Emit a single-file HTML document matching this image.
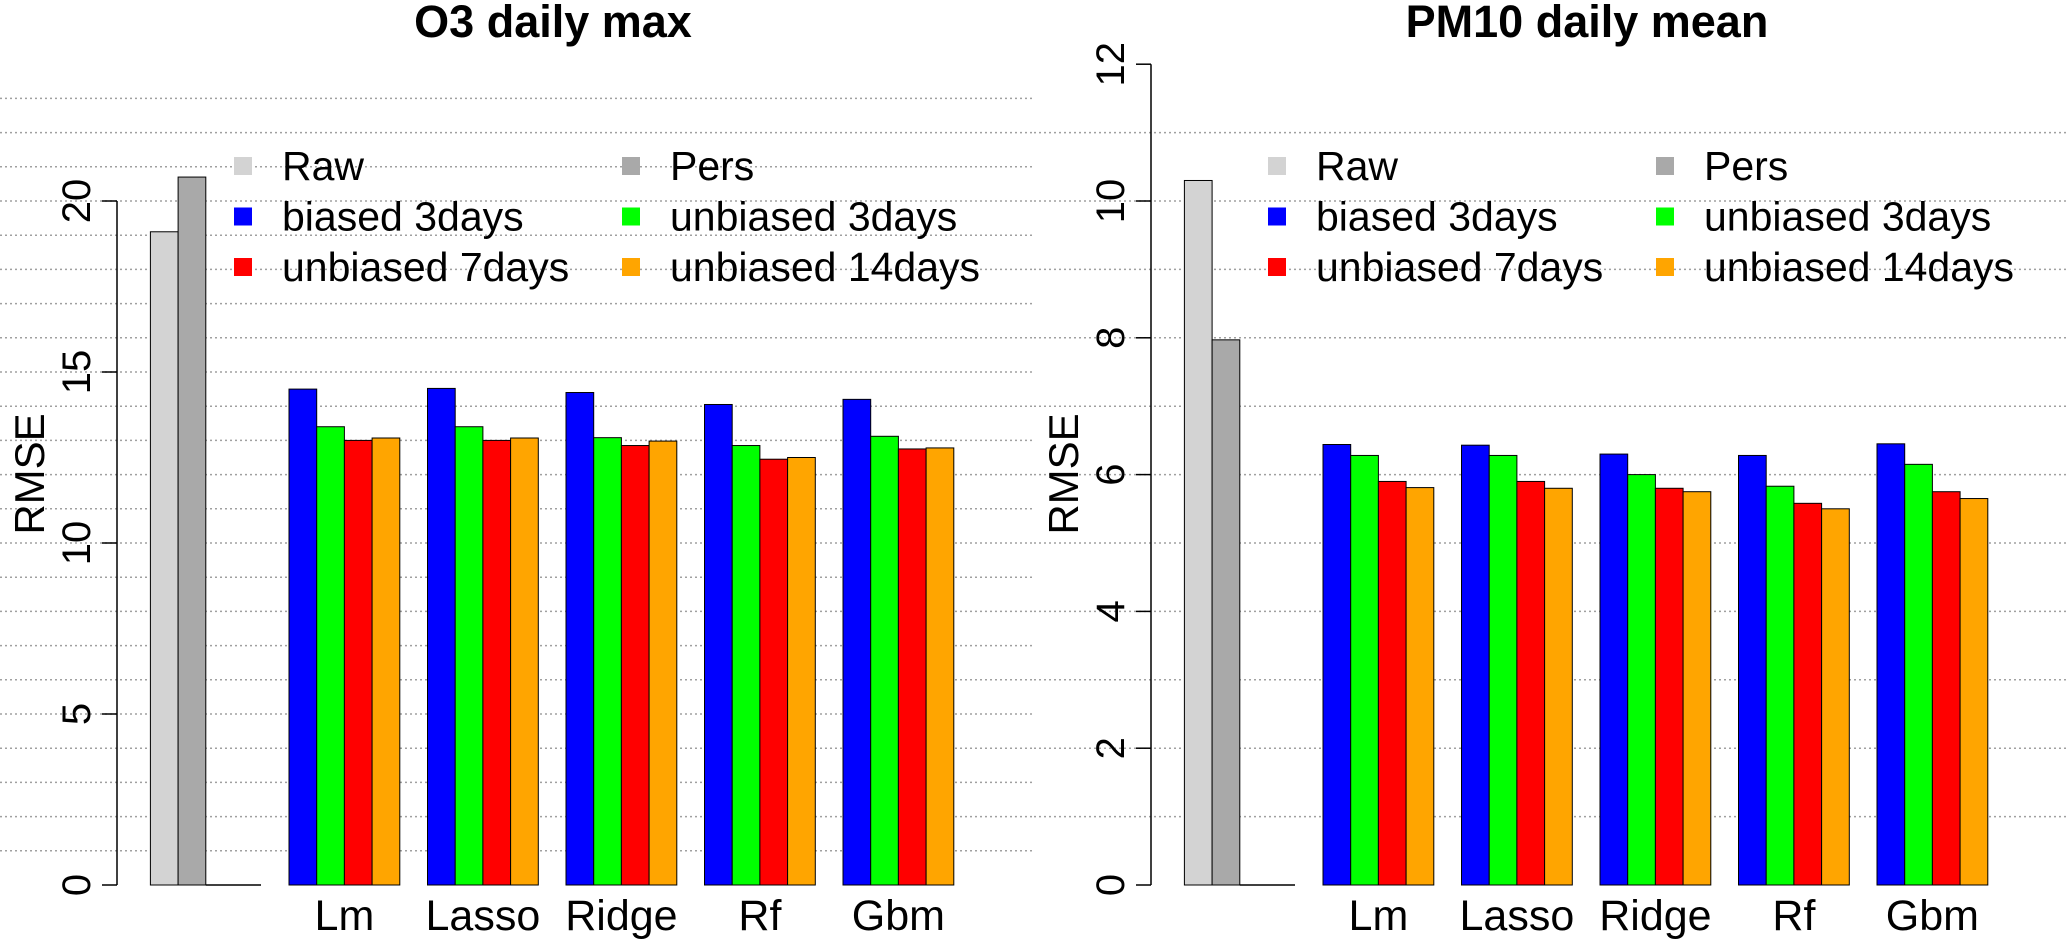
<!DOCTYPE html>
<html><head><meta charset="utf-8"><style>
html,body{margin:0;padding:0;background:#fff;}
svg{display:block;font-family:"Liberation Sans",Arial,sans-serif;}
</style></head><body>
<svg id="chart" width="2067" height="941" viewBox="0 0 2067 941" xmlns="http://www.w3.org/2000/svg"></svg>
<script>
const methods = ["Lm","Lasso","Ridge","Rf","Gbm"];
const seriesNames = ["biased 3days","unbiased 3days","unbiased 7days","unbiased 14days"];
const seriesColors = ["#0000ff","#00ff00","#ff0000","#ffa500"];
const o3Baselines = [19.1, 20.7];
const o3Biased3 = [14.5, 14.52, 14.4, 14.05, 14.2];
const o3Unbiased3 = [13.4, 13.4, 13.08, 12.85, 13.12];
const o3Unbiased7 = [13.0, 13.0, 12.85, 12.45, 12.75];
const o3Unbiased14 = [13.07, 13.07, 12.98, 12.5, 12.78];
const pmBaselines = [10.3, 7.97];
const pmBiased3 = [6.44, 6.43, 6.3, 6.28, 6.45];
const pmUnbiased3 = [6.28, 6.28, 6.0, 5.83, 6.15];
const pmUnbiased7 = [5.9, 5.9, 5.8, 5.58, 5.75];
const pmUnbiased14 = [5.81, 5.8, 5.75, 5.5, 5.65];
const o3Ticks = [0,5,10,15,20];
const pmTicks = [0,2,4,6,8,10,12];

const NS = "http://www.w3.org/2000/svg";
const svg = document.getElementById("chart");
function mk(tag, attrs, parent){
  const e = document.createElementNS(NS, tag);
  for (const k in attrs) e.setAttribute(k, attrs[k]);
  (parent||svg).appendChild(e);
  return e;
}

function panel(cfg){
  const g = mk("g", {});
  
  
  const ox = cfg.ox, y0 = 885, unit = cfg.unit;
  const y = v => y0 - v*unit;
  const bw = 27.7;
  for (let v = 1; v <= cfg.gridMax; v += 1) {
    const l = mk("line", {x1: ox, x2: ox+1033, y1: y(v), y2: y(v), stroke:"#a0a0a0", "stroke-width":1.5, "stroke-dasharray":"2,3"}, g);
    
    
  }
  const t = mk("text", {x: ox+553, y: 37, "font-size":45, "font-weight":"bold", "text-anchor":"middle"}, g);
  t.textContent = cfg.title;
  
  
  const ax = ox+117;
  const axl = mk("line", {x1: ax, x2: ax, y1: y0, y2: y(cfg.axisMax), stroke:"#000", "stroke-width":1.5}, g);
  
  
  cfg.ticks.forEach(v => {
    mk("line", {x1: ax-15, x2: ax, y1: y(v), y2: y(v), stroke:"#000", "stroke-width":1.5}, g);
    const tl = mk("text", {x: 0, y: 0, "font-size":40, "text-anchor":"middle", transform:`translate(${ox+90},${y(v)}) rotate(-90)`}, g);
    tl.textContent = v;
    
    
  });
  const yt = mk("text", {x:0, y:0, "font-size":42, "text-anchor":"middle", transform:`translate(${ox+44},474) rotate(-90)`}, g);
  yt.textContent = "RMSE";
  
  
  const baseCols = ["#d3d3d3","#a9a9a9"];
  cfg.baselines.forEach((v,i) => {
    const r = mk("rect", {x: ox+150.4+i*bw, y: y(v), width: bw, height: y0-y(v), fill: baseCols[i], stroke:"#000", "stroke-width":1}, g);
    
    
  });
  mk("line", {x1: ox+150.4+2*bw, x2: ox+261, y1: y0, y2: y0, stroke:"#000", "stroke-width":1.5}, g);
  methods.forEach((m, gi) => {
    const gx = ox + 289 + gi*138.5;
    cfg.series.forEach((arr, si) => {
      const v = arr[gi];
      const r = mk("rect", {x: gx+si*bw, y: y(v), width: bw, height: y0-y(v), fill: seriesColors[si], stroke:"#000", "stroke-width":1}, g);
      
      
    });
    const xl = mk("text", {x: gx+2*bw, y: 930, "font-size":43, "text-anchor":"middle"}, g);
    xl.textContent = m;
    
    
  });
  const legNames = ["Raw","Pers"].concat(seriesNames);
  const legCols = baseCols.concat(seriesColors);
  legNames.forEach((n, i) => {
    const col = i % 2, row = Math.floor(i/2);
    const cy = 166 + row*50.5;
    const sx = ox + (col===0 ? 234 : 622);
    const tx = ox + (col===0 ? 282 : 670);
    const le = mk("g", {}, g);
    
    
    mk("rect", {x: sx, y: cy-9, width: 18, height: 18, fill: legCols[i]}, le);
    const lt = mk("text", {x: tx, y: cy+14, "font-size":41}, le);
    lt.textContent = n;
  });
}

panel({name:"o3-panel", ox:0, unit:34.2, title:"O3 daily max", gridMax:23, axisMax:20, ticks:o3Ticks,
  baselines:o3Baselines, series:[o3Biased3,o3Unbiased3,o3Unbiased7,o3Unbiased14]});
panel({name:"pm10-panel", ox:1034, unit:68.4, title:"PM10 daily mean", gridMax:11, axisMax:12, ticks:pmTicks,
  baselines:pmBaselines, series:[pmBiased3,pmUnbiased3,pmUnbiased7,pmUnbiased14]});
</script>
</body></html>
